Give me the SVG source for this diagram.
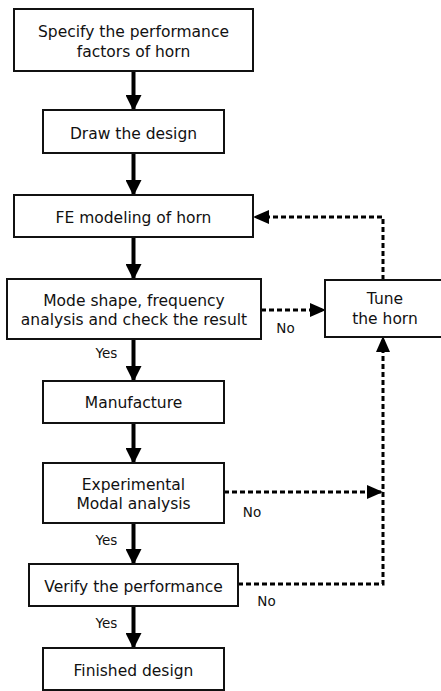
<svg xmlns="http://www.w3.org/2000/svg" width="441" height="691" viewBox="0 0 441 691">
<style>
.box{fill:#fff;stroke:#111;stroke-width:2}
.t{font-family:"DejaVu Sans","Liberation Sans",sans-serif;font-size:15.5px;fill:#111;text-anchor:middle}
.l{font-family:"DejaVu Sans","Liberation Sans",sans-serif;font-size:13.5px;fill:#111;text-anchor:middle}
.solid{fill:none;stroke:#000;stroke-width:4}
.dash{fill:none;stroke:#000;stroke-width:3;stroke-dasharray:5 3}
</style>
<defs>
<marker id="ah" markerUnits="userSpaceOnUse" markerWidth="16" markerHeight="16" refX="15" refY="8" orient="auto" viewBox="0 0 16 16">
<path d="M0,0 L16,8 L0,16 z" fill="#000"/>
</marker>
<marker id="ahd" markerUnits="userSpaceOnUse" markerWidth="16" markerHeight="14" refX="15" refY="7" orient="auto" viewBox="0 0 16 14">
<path d="M0,0 L16,7 L0,14 z" fill="#000"/>
</marker>
</defs>
<rect width="441" height="691" fill="#fff"/>
<g id="connectors">
<path class="solid" d="M133.5,71 V110" marker-end="url(#ah)"/>
<path class="solid" d="M133.5,153 V195" marker-end="url(#ah)"/>
<path class="solid" d="M133.5,237 V279" marker-end="url(#ah)"/>
<path class="solid" d="M133.5,339 V381" marker-end="url(#ah)"/>
<path class="solid" d="M133.5,423 V463" marker-end="url(#ah)"/>
<path class="solid" d="M133.5,523 V564" marker-end="url(#ah)"/>
<path class="solid" d="M133.5,606 V648" marker-end="url(#ah)"/>
<path class="dash" d="M383,280 V217 H254" marker-end="url(#ahd)"/>
<path class="dash" d="M261,310 H325" marker-end="url(#ahd)"/>
<path class="dash" d="M224,492 H382" marker-end="url(#ahd)"/>
<path class="dash" d="M238,584 H383 V337" marker-end="url(#ahd)"/>
<text class="l" x="285.5" y="332.5">No</text>
<text class="l" x="252" y="516.5">No</text>
<text class="l" x="266.5" y="605.5">No</text>
<text class="l" x="106.5" y="357.5">Yes</text>
<text class="l" x="106.5" y="544.5">Yes</text>
<text class="l" x="106.5" y="627.5">Yes</text>
</g>
<g id="n1"><rect class="box" x="14" y="9" width="239" height="62"/><text class="t" x="133.5" y="36.5">Specify the performance</text><text class="t" x="133.5" y="56.5">factors of horn</text></g>
<g id="n2"><rect class="box" x="43" y="110" width="181" height="43"/><text class="t" x="133.5" y="138.5">Draw the design</text></g>
<g id="n3"><rect class="box" x="14" y="195" width="239" height="42"/><text class="t" x="133.5" y="222.5">FE modeling of horn</text></g>
<g id="n4"><rect class="box" x="7" y="279" width="254" height="60"/><text class="t" x="134" y="305.5">Mode shape, frequency</text><text class="t" x="134" y="324.5">analysis and check the result</text></g>
<g id="tune"><rect class="box" x="325" y="280" width="130" height="57"/><text class="t" x="385" y="303.5">Tune</text><text class="t" x="385" y="323.5">the horn</text></g>
<g id="n5"><rect class="box" x="43" y="381" width="181" height="42"/><text class="t" x="133.5" y="407.5">Manufacture</text></g>
<g id="n6"><rect class="box" x="43" y="463" width="181" height="60"/><text class="t" x="133.5" y="489.5">Experimental</text><text class="t" x="133.5" y="508.5">Modal analysis</text></g>
<g id="n7"><rect class="box" x="29" y="564" width="209" height="42"/><text class="t" x="133.5" y="591.5">Verify the performance</text></g>
<g id="n8"><rect class="box" x="43" y="648" width="181" height="42"/><text class="t" x="133.5" y="675.5">Finished design</text></g>
</svg>
